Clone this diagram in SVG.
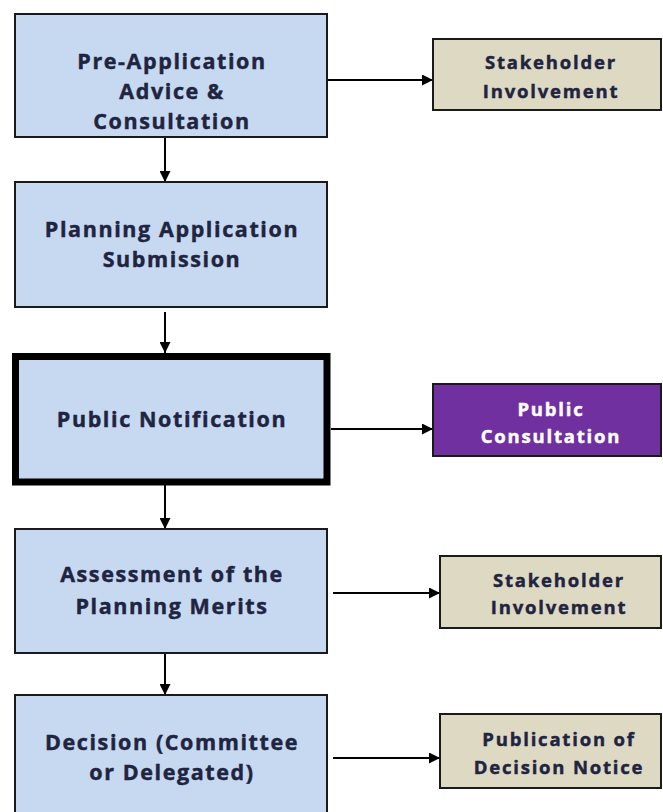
<svg xmlns="http://www.w3.org/2000/svg" width="663" height="812" viewBox="0 0 663 812">
<style>
.main{fill:#C6D9F1;stroke:#1a1a1a;stroke-width:2}
.thick{fill:#C6D9F1;stroke:#000;stroke-width:7}
.tan{fill:#DDD9C3;stroke:#1a1a1a;stroke-width:2}
.purple{fill:#7030A0;stroke:#1a1a1a;stroke-width:2}
text{font-family:"Open Sans","Noto Sans",sans-serif;font-weight:bold;text-anchor:middle;fill:#1F2440;stroke:#1F2440;stroke-width:0.45px}
.big{font-size:21.5px;letter-spacing:1.6px}
.small{font-size:18.5px;letter-spacing:1.8px}
.white{fill:#fff;stroke:#fff}
.conn{stroke:#000;stroke-width:2;fill:none;marker-end:url(#ah)}
</style>
<defs>
<marker id="ah" viewBox="0 0 10 10" refX="10" refY="5" markerWidth="5.5" markerHeight="5.5" orient="auto" markerUnits="strokeWidth">
<path d="M0,0 L10,5 L0,10 z" fill="#000"/>
</marker>
</defs>
<rect width="663" height="812" fill="#fff"/>
<g id="connectors">
<path class="conn" d="M165,137 V182"/>
<path class="conn" d="M165,312 V353"/>
<path class="conn" d="M165,485 V529"/>
<path class="conn" d="M165,653 V695"/>
<path class="conn" d="M327,80 H433"/>
<path class="conn" d="M331,429 H433"/>
<path class="conn" d="M333,593 H440"/>
<path class="conn" d="M333,758 H440"/>
</g>
<g id="pre-application">
<rect class="main" x="15" y="14" width="312" height="123"/>
<text class="big" x="172" y="69">Pre-Application</text>
<text class="big" x="172" y="99">Advice &amp;</text>
<text class="big" x="172" y="129">Consultation</text>
</g>
<g id="submission">
<rect class="main" x="15" y="182" width="312" height="125"/>
<text class="big" x="172" y="237">Planning Application</text>
<text class="big" x="172" y="267">Submission</text>
</g>
<g id="notification">
<rect class="thick" x="15.5" y="356.5" width="311.5" height="125.5"/>
<text class="big" x="172" y="427">Public Notification</text>
</g>
<g id="assessment">
<rect class="main" x="15" y="529" width="312" height="124"/>
<text class="big" x="172" y="582">Assessment of the</text>
<text class="big" x="172" y="614">Planning Merits</text>
</g>
<g id="decision">
<rect class="main" x="15" y="695" width="312" height="130"/>
<text class="big" x="172" y="750">Decision (Committee</text>
<text class="big" x="172" y="780">or Delegated)</text>
</g>
<g id="stakeholder1">
<rect class="tan" x="433" y="39" width="228" height="71"/>
<text class="small" x="551" y="69">Stakeholder</text>
<text class="small" x="551" y="98">Involvement</text>
</g>
<g id="public-consultation">
<rect class="purple" x="433" y="384" width="228" height="72"/>
<text class="small white" x="551" y="416">Public</text>
<text class="small white" x="551" y="443">Consultation</text>
</g>
<g id="stakeholder2">
<rect class="tan" x="440" y="556" width="221" height="72"/>
<text class="small" x="559" y="587">Stakeholder</text>
<text class="small" x="559" y="614">Involvement</text>
</g>
<g id="publication">
<rect class="tan" x="440" y="714" width="221" height="74"/>
<text class="small" x="559" y="746">Publication of</text>
<text class="small" x="559" y="774">Decision Notice</text>
</g>
</svg>
